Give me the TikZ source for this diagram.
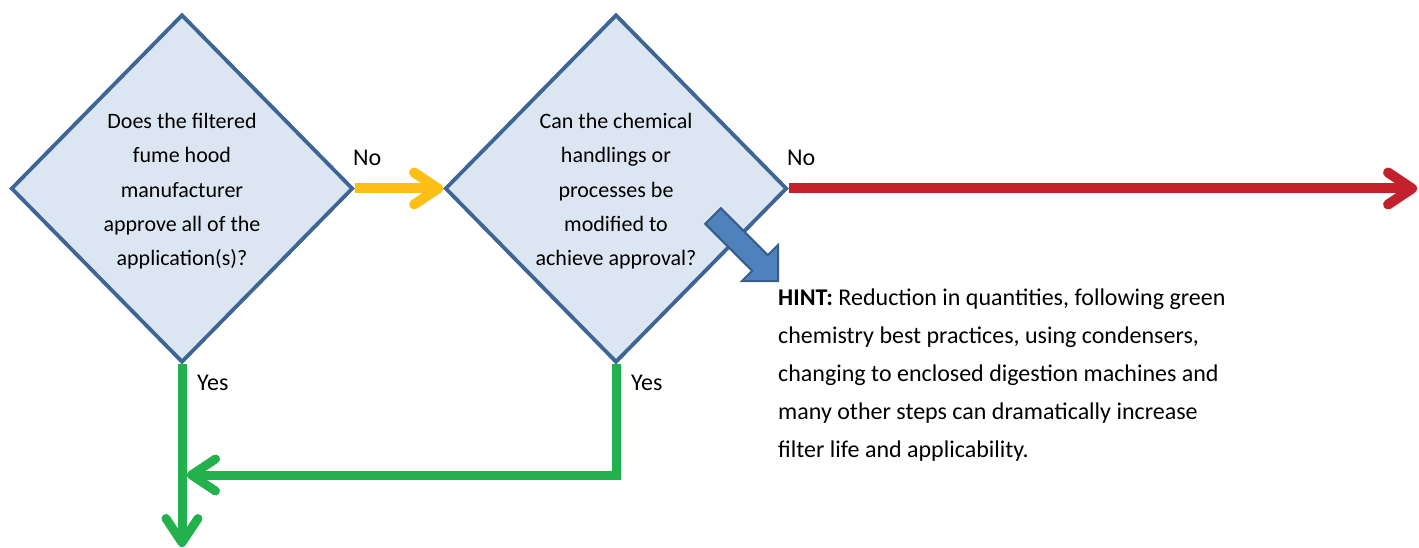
\documentclass[tikz,border=0pt]{standalone}
\usepackage{fontspec}
\setmainfont{Carlito}
\usetikzlibrary{shapes.geometric,arrows.meta,backgrounds}
\definecolor{dfill}{HTML}{DCE6F2}
\definecolor{dline}{HTML}{3D6595}
\definecolor{yarrow}{HTML}{FDBE16}
\definecolor{rarrow}{HTML}{C3202B}
\definecolor{garrow}{HTML}{22B14C}
\definecolor{bfill}{HTML}{4F81BD}
\definecolor{bline}{HTML}{385D8A}
\begin{document}
\begin{tikzpicture}[x=1pt,y=-1pt,
  decision/.style={diamond, draw=dline, fill=dfill, line width=3.8pt,
    minimum width=342pt, minimum height=348pt, inner sep=0pt},
  dtext/.style={align=center, inner sep=0pt, font=\fontsize{22}{34.2}\selectfont},
  barb/.style={-{Straight Barb[length=24pt,width=32pt,round]}},
  flow/.style={line width=10pt, barb},
  gflow/.style={line width=9pt, draw=garrow, barb},
  lbl/.style={font=\fontsize{24}{28}\selectfont, inner sep=0pt, anchor=base west},
  hintarrow/.style={fill=bfill, draw=bline, line width=2pt, line join=miter}]
\useasboundingbox (0,0) rectangle (1419,548);
\node[decision] (d1) at (182,188.5) {};
\node[decision] (d2) at (616,188.5) {};
\node[dtext] (t1) at ([yshift=-2.8pt]d1.center) {Does the filtered\\fume hood\\manufacturer\\approve all of the\\application(s)?};
\node[dtext] (t2) at ([yshift=-2.8pt]d2.center) {Can the chemical\\handlings or\\processes be\\modified to\\achieve approval?};
\coordinate (rend) at (1417,188.5);
\coordinate (gdown) at (182,547);
\coordinate (gleft) at (187,475);
\begin{scope}[on background layer]
\draw[flow, draw=yarrow] (d1.east) -- (d2.west);
\draw[flow, draw=rarrow] (d2.east) -- (rend);
\draw[gflow] (d1.south) -- (gdown);
\draw[gflow] (d2.south) |- (gleft);
\end{scope}
\node[lbl] (no1) at (353,166) {No};
\node[lbl] (no2) at (787,166) {No};
\node[lbl] (yes1) at (197,390) {Yes};
\node[lbl] (yes2) at (631,390) {Yes};
\draw[hintarrow] (705.2,223.8) -- (720.8,208.2) -- (767.8,255.2) -- (778,245) -- (778,281) -- (742,281) -- (752.2,270.8) -- cycle;
\node[anchor=north west, align=left, inner sep=0pt, font=\fontsize{24}{37.9}\selectfont] (hint) at (778,289)
  {\textbf{HINT:} Reduction in quantities, following green\\
   chemistry best practices, using condensers,\\
   changing to enclosed digestion machines and\\
   many other steps can dramatically increase\\
   filter life and applicability.};
\end{tikzpicture}
\end{document}
